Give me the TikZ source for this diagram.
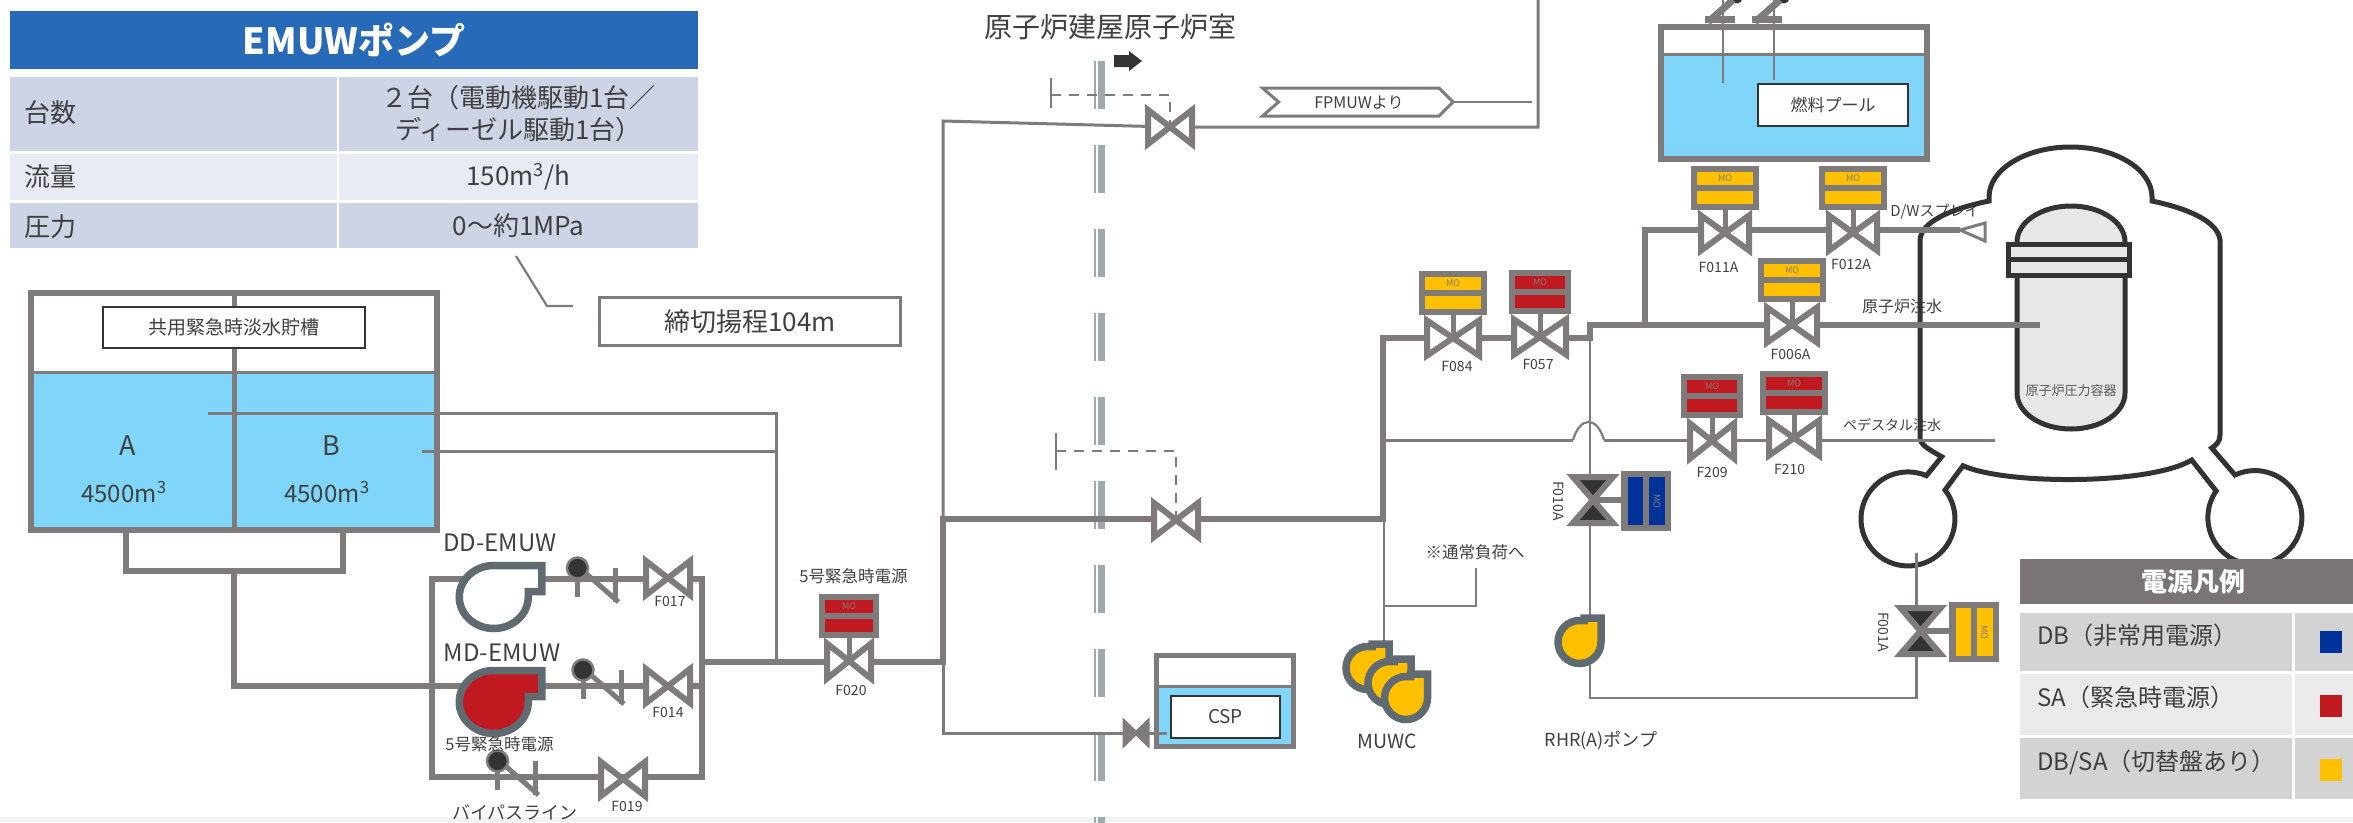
\documentclass[tikz,border=0pt]{standalone}
\usepackage{xcolor}
\usepackage{fontspec}
\setmainfont{Noto Sans CJK JP}

\definecolor{pipegray}{HTML}{7F7B7A}
\definecolor{pumpgray}{HTML}{5F6B70}
\definecolor{wallgray}{HTML}{9EA8AD}
\definecolor{darkline}{HTML}{333333}
\definecolor{inktext}{HTML}{404040}
\definecolor{waterblue}{HTML}{7FD6FA}
\definecolor{waterline}{HTML}{4FA9CC}
\definecolor{moyel}{HTML}{FFC000}
\definecolor{mored}{HTML}{C01920}
\definecolor{moblue}{HTML}{003399}
\definecolor{headblue}{HTML}{266AB8}
\definecolor{rowdark}{HTML}{CDD4E6}
\definecolor{rowlight}{HTML}{E8EBF4}
\definecolor{legendhead}{HTML}{7A7574}
\definecolor{legenddark}{HTML}{D3D3D3}
\definecolor{legendlight}{HTML}{EBEBEB}
\definecolor{vesselfill}{HTML}{E8E8E8}

\tikzset{
    fs/.style = {font=\fontsize{#1}{32}\selectfont, text=inktext, inner sep=0pt},
    pipe/.style = {draw=pipegray, line width=6pt},
    thinpipe/.style = {draw=pipegray, line width=3pt},
    hairpipe/.style = {draw=pipegray, line width=2.2pt},
    ctrl/.style = {draw=pipegray, line width=2.5pt, dash pattern=on 10pt off 8pt},
    shell/.style = {draw=darkline, line width=5pt},
    tankline/.style = {draw=pipegray, line width=6pt},
    water/.style = {fill=waterblue, draw=waterline, line width=1.5pt},
    namebox/.style = {draw=darkline, fill=white, line width=2pt, inner sep=0pt},
    cell/.style 2 args = {anchor=north west, minimum width=#1pt, minimum height=#2pt,
        inner sep=0pt, outer sep=0pt},
    tag/.style = {fs=14},
    pics/bowtie/.style 2 args = {code={
        \filldraw[draw=pipegray, fill=white, line width=6pt]
            (-#1,-#2) -- (#1,#2) -- (#1,-#2) -- (-#1,#2) -- cycle;
    }},
    pics/moact/.style 2 args = {code={
        \draw[draw=pipegray, line width=5pt] (0,0) -- (0,-24);
        \fill[pipegray] (-#1,-67) rectangle (#1,-23);
        \fill[#2] (-#1+6,-61) rectangle (#1-6,-48);
        \fill[#2] (-#1+6,-42) rectangle (#1-6,-29);
        \node[font=\fontsize{9}{9}\selectfont, text=pipegray, inner sep=0pt] (mo) at (0,-54.5) {MO};
    }},
    pics/sideact/.style = {code={
        \filldraw[draw=pipegray, fill=darkline, line width=6pt] (-20,-23) -- (20,-23) -- (0,0) -- cycle;
        \filldraw[draw=pipegray, fill=darkline, line width=6pt] (-20,23) -- (20,23) -- (0,0) -- cycle;
        \draw[draw=pipegray, line width=6pt] (0,0) -- (29,0);
        \fill[pipegray] (28,-29) rectangle (78,31);
        \fill[#1] (35,-23) rectangle (50,25);
        \fill[#1] (56,-23) rectangle (72,25);
        \node[font=\fontsize{9}{9}\selectfont, text=pipegray, inner sep=0pt, rotate=-90] (mo) at (64,1) {MO};
    }},
    pics/checkv/.style = {code={
        \draw[draw=pipegray, line width=5pt] (0,0) -- (0,29);
        \draw[draw=pipegray, line width=5pt] (8,5) -- (41,34);
        \draw[draw=pipegray, line width=5pt] (38,0) -- (38,34);
        \filldraw[draw=pipegray, fill=darkline, line width=2.5pt] (0,0) circle[radius=10.5pt];
    }},
    pics/zcheck/.style = {code={
        \fill[darkline] (14,-2) circle[radius=5.5pt];
        \draw[draw=pipegray, line width=7pt] (10,0) -- (-15,22);
        \draw[draw=pipegray, line width=7.5pt] (-18,19.5) -- (12,19.5);
    }},
    pics/bigpump/.style = {code={
        \filldraw[draw=pumpgray, fill=#1, line width=7.5pt] (0,-31.5) -- (48,-31.5) -- (48,-5.5)
            -- (34.5,-5.5) -- (34.5,0) arc[start angle=0, end angle=-270, x radius=34.5pt, y radius=31.5pt] -- cycle;
    }},
    pics/smallpump/.style = {code={
        \filldraw[draw=pumpgray, fill=moyel, line width=7.5pt] (21.5,-24) -- (4.5,-24) -- (4.5,-21.5)
            -- (0,-21.5) arc[start angle=90, end angle=360, radius=21.5pt] -- cycle;
    }},
}

\begin{document}
\begin{tikzpicture}[x=1pt, y=-1pt]
    \useasboundingbox (0,0) rectangle (2353,822);
    \fill[black!5] (0,817) rectangle (2353,822);

    \node[cell={688}{58}, fill=headblue, font=\fontsize{36}{36}\bfseries\selectfont, text=white] (title) at (10,11) {EMUWポンプ};
    \node[cell={327}{74}, fill=rowdark] (rowA) at (10,77) {};
    \node[cell={359}{74}, fill=rowdark, fs=26, align=center] (valA) at (339,77) {２台（電動機駆動1台／\\ディーゼル駆動1台）};
    \node[cell={327}{46}, fill=rowlight] (rowB) at (10,154) {};
    \node[cell={359}{46}, fill=rowlight, fs=26] (valB) at (339,154) {150m\textsuperscript{3}/h};
    \node[cell={327}{45}, fill=rowdark] (rowC) at (10,203) {};
    \node[cell={359}{45}, fill=rowdark, fs=26] (valC) at (339,203) {0～約1MPa};
    \node[fs=26, anchor=west] (keyA) at (24,113) {台数};
    \node[fs=26, anchor=west] (keyB) at (24,177) {流量};
    \node[fs=26, anchor=west] (keyC) at (24,227) {圧力};

    \coordinate (callA) at (516,256);
    \coordinate (callB) at (547,306);
    \coordinate (callC) at (573,306);
    \draw[hairpipe] (callA) -- (callB) -- (callC);
    \node[cell={301}{48}, draw=pipegray, line width=3pt, fs=26] (head) at (599.5,297.5) {締切揚程104m};

    \fill[white] (31,293) rectangle (437,372);
    \filldraw[water] (31,372) rectangle (437,530);
    \draw[tankline] (31,293) rectangle (437,530);
    \draw[draw=pipegray, line width=3pt] (31,372) -- (437,372);
    \draw[draw=pipegray, line width=5pt] (234,293) -- (234,530);
    \node[namebox, minimum width=262pt, minimum height=41pt, fs=19] (sharedtank) at (234,327) {共用緊急時淡水貯槽};
    \node[fs=27] (lblA) at (128,446) {A};
    \node[fs=27] (lblB) at (331,446) {B};
    \node[fs=24] (capA) at (124,492) {4500m\textsuperscript{3}};
    \node[fs=24] (capB) at (327,492) {4500m\textsuperscript{3}};

    \fill[white] (1156,655) rectangle (1293,687);
    \filldraw[water] (1156,687) rectangle (1293,747);
    \draw[draw=pipegray, line width=5pt] (1156.5,655.5) rectangle (1293.5,746.5);
    \draw[draw=pipegray, line width=3pt] (1156,686) -- (1293,686);
    \node[namebox, minimum width=109pt, minimum height=42pt, fs=19] (csp) at (1225.5,717) {CSP};

    \filldraw[water] (1661,54) rectangle (1927,159);
    \draw[tankline] (1661,27) rectangle (1927,159);
    \draw[draw=pipegray, line width=3pt] (1661,54) -- (1927,54);
    \node[namebox, minimum width=150pt, minimum height=42pt, fs=17] (pool) at (1833,105) {燃料プール};

    \foreach \wy in {61,145,...,817}
    {
        \draw[draw=wallgray, line width=2pt] (1094.5,\wy) -- (1094.5,\wy+48);
        \draw[draw=wallgray, line width=7pt] (1101.5,\wy) -- (1101.5,\wy+48);
    }
    \node[fs=28] (room) at (1110,27) {原子炉建屋原子炉室};
    \fill[darkline] (1114,55) -- (1129,55) -- (1129,51) -- (1142,61) -- (1129,71) -- (1129,67) -- (1114,67) -- cycle;

    \node[fs=16] (rpvwater) at (1902,306) {原子炉注水};
    \node[fs=14] (pedwater) at (1892,425) {ペデスタル注水};
    \node[fs=15] (dwspray) at (1935,212) {D/Wスプレイ};

    \draw[shell] (1920,438) -- (1920,240) .. controls (1921,222) and (1950,209) .. (1989,201) -- (1989,197)
        arc[start angle=180, end angle=0, x radius=81.5pt, y radius=50pt] -- (2152,201)
        .. controls (2190,209) and (2218,222) .. (2220,240) -- (2220,435)
        .. controls (2220,442) and (2216,445) .. (2211.7,448) -- (2235,475)
        arc[start angle=115, end angle=-214.5, radius=47pt] -- (2191.7,460)
        .. controls (2150,485) and (2005,485) .. (1963,465.7) -- (1945,490)
        arc[start angle=38, end angle=-293, radius=47pt] -- (1941.7,456.7)
        .. controls (1930,450) and (1920,445) .. (1920,438) -- cycle;
    \filldraw[shell, fill=vesselfill] (2017,393) -- (2017,242)
        arc[start angle=180, end angle=0, x radius=54pt, y radius=36pt] -- (2125,393)
        arc[start angle=0, end angle=-180, x radius=54pt, y radius=36pt] -- cycle;
    \filldraw[shell, fill=vesselfill] (2008,244) rectangle (2129,275);
    \draw[shell] (2008,259.5) -- (2129,259.5);
    \node[fs=13, text=black!65] (rpv) at (2071,391) {原子炉圧力容器};

    \foreach \nm/\x/\y in {F017/668/578, F014/668/686, F019/623/779, F020/849/661, vTop/1170/127, vMid/1176/520,
        vCsp/1136/733, F084/1453/338, F057/1540/337, F006A/1792/325, F011A/1725/233, F012A/1853/233,
        F209/1712/441, F210/1794/438, F010A/1593/500, F001A/1920.5/631,
        uA/126/533, uAb/126/571, uBb/343/571, uB/343/533, uM/234/571, suct/234/686,
        ddL/432/579, ddR/702/579, byL/432/777, byR/702/777, mdR/702/686, hdrR/702/662, hdrM/776/662,
        retA/208/413, retAc/776/413, retB/422/451, retBc/776/451, jnLow/943/662, jnMid/943/519,
        jnTop/943/121, topR/1538/127, topEnd/1538/0, cspEnd/1167/733, cspC/943/733,
        jnR/1383/519, upR/1383/338, stepA/1590/338, stepB/1590/325, rpvIn/2040/325,
        brA/1645/325, brB/1645/230, dwEnd/1960/230, pedA/1383/440, pedB/1573/440, pedC/1604/440, pedD/1995/440,
        muwcA/1384/519, muwcB/1384/642, loadA/1384/606, loadB/1476/606, loadC/1476/568,
        rhrA/1590/338, rhrB/1590/480, rhrC/1590/525, rhrD/1590/618, rhrE/1590/665, rhrF/1590/698,
        rhrG/1916.5/698, rhrH/1916.5/655, rhrI/1916.5/608, rhrJ/1916.5/553,
        poolA/1723/0, poolB/1723/83, poolC/1774/0, poolD/1774/80,
        teeTop/1051/95, teeTopC/1170/95, teeMid/1056/451, teeMidC/1176/451}
        \coordinate (\nm) at (\x,\y);

    \draw[ctrl] (teeTop) -- (teeTopC) -- (vTop);
    \draw[ctrl] (teeMid) -- (teeMidC) -- (vMid);
    \draw[hairpipe] (1051,78) -- (1051,108);
    \draw[hairpipe] (1056,433) -- (1056,470);

    \draw[pipe] (uA) -- (uAb) -- (uBb) -- (uB);
    \draw[pipe] (uM) -- (suct) -- (mdR);
    \draw[pipe] (ddL) -- (ddR) -- (byR) -- (byL) -- cycle;
    \draw[pipe] (hdrR) -- (jnLow) -- (jnMid) -- (jnR) -- (upR) -- (stepA) -- (stepB) -- (rpvIn);
    \draw[pipe] (brA) -- (brB) -- (dwEnd);
    \draw[thinpipe] (retA) -- (retAc) -- (hdrM);
    \draw[thinpipe] (retB) -- (retBc);
    \draw[thinpipe] (jnMid) -- (jnTop) -- (vTop) -- (topR) -- (topEnd);
    \draw[thinpipe] (jnLow) -- (cspC) -- (cspEnd);
    \draw[thinpipe] (pedA) -- (pedB);
    \draw[thinpipe] (pedC) -- (pedD);
    \draw[hairpipe] (pedB) .. controls (1580,416) and (1597,416) .. (pedC);
    \draw[hairpipe] (muwcA) -- (muwcB);
    \draw[hairpipe] (loadA) -- (loadB) -- (loadC);
    \draw[hairpipe] (rhrA) -- (rhrB);
    \draw[hairpipe] (rhrC) -- (rhrD);
    \draw[hairpipe] (rhrE) -- (rhrF) -- (rhrG) -- (rhrH);
    \draw[hairpipe] (rhrI) -- (rhrJ);
    \draw[hairpipe] (poolA) -- (poolB);
    \draw[hairpipe] (poolC) -- (poolD);
    \filldraw[draw=pipegray, fill=white, line width=3pt] (dwEnd) -- (1985,223) -- (1985,241) -- cycle;

    \pic at (1723,0) {zcheck};
    \pic at (1770,0) {zcheck};

    \coordinate (fpTip) at (1453,102);
    \coordinate (fpEnd) at (1532,102);
    \draw[hairpipe] (fpTip) -- (fpEnd);
    \filldraw[draw=pipegray, fill=white, line width=3pt] (1262.5,88) -- (1439,88) -- (fpTip) -- (1439,116)
        -- (1262.5,116) -- (1278.6,102) -- cycle;
    \node[fs=16] (fpmuw) at (1359,103) {FPMUWより};

    \foreach \nm/\vw/\hw/\col/\lx/\ly in {F084/26/34/moyel/1457/366, F057/26/31/mored/1538/364,
        F006A/25/34/moyel/1790.5/354, F011A/24/34/moyel/1718.5/267, F012A/24/34/moyel/1851/264,
        F209/22/31/mored/1712/472, F210/25/34/mored/1789.5/469, F020/22/30/mored/851/690}
    {
        \pic at (\nm) {bowtie={\vw}{17.5}};
        \pic (\nm-) at (\nm) {moact={\hw}{\col}};
        \node[tag] (lbl\nm) at (\lx,\ly) {\nm};
    }
    \foreach \nm/\lx/\ly in {F017/670/601, F014/668/712, F019/627/806}
    {
        \pic at (\nm) {bowtie={22}{17}};
        \node[tag] (lbl\nm) at (\lx,\ly) {\nm};
    }
    \pic at (vTop) {bowtie={22}{17}};
    \pic at (vMid) {bowtie={22}{17}};
    \filldraw[draw=pipegray, fill=pipegray, line width=4pt] (vCsp) ++(-11.5,-11) -- ++(23,22) -- ++(0,-22) -- ++(-23,22) -- cycle;

    \pic (F010A-) at (F010A) {sideact=moblue};
    \pic (F001A-) at (F001A) {sideact=moyel};
    \node[tag, rotate=-90] (lblF010A) at (1559,501) {F010A};
    \node[tag, rotate=-90] (lblF001A) at (1884,632) {F001A};

    \pic at (493.75,597) {bigpump=white};
    \pic at (493.75,702) {bigpump=mored};
    \pic at (577.5,568) {checkv};
    \pic at (583,670) {checkv};
    \pic at (497.5,761) {checkv};
    \pic at (1367.5,668) {smallpump};
    \pic at (1389.5,683) {smallpump};
    \pic at (1406,698) {smallpump};
    \pic at (1579.5,642) {smallpump};

    \node[fs=24] (ddemuw) at (500,543) {DD-EMUW};
    \node[fs=24] (mdemuw) at (502,653) {MD-EMUW};
    \node[fs=16.5] (powerA) at (853.5,576) {5号緊急時電源};
    \node[fs=16.5] (powerB) at (499.5,744) {5号緊急時電源};
    \node[fs=18] (bypass) at (515,812) {バイパスライン};
    \node[fs=16.5] (normal) at (1475,552) {※通常負荷へ};
    \node[fs=19.5] (muwc) at (1387,741) {MUWC};
    \node[fs=18] (rhrpump) at (1601,741) {RHR(A)ポンプ};

    \node[cell={333}{45}, fill=legendhead, font=\fontsize{26}{26}\bfseries\selectfont, text=white] (legend) at (2020,559) {\hspace*{13pt}電源凡例};
    \node[cell={272}{58}, fill=legenddark] (rowDB) at (2020,613) {};
    \node[cell={58}{58}, fill=legenddark] (keyDB) at (2295,613) {};
    \node[cell={272}{61}, fill=legendlight] (rowSA) at (2020,674) {};
    \node[cell={58}{61}, fill=legendlight] (keySA) at (2295,674) {};
    \node[cell={272}{61}, fill=legenddark] (rowBoth) at (2020,738) {};
    \node[cell={58}{61}, fill=legenddark] (keyBoth) at (2295,738) {};
    \node[fs=24, anchor=west] (txtDB) at (2037,635) {DB（非常用電源）};
    \node[fs=24, anchor=west] (txtSA) at (2037,697) {SA（緊急時電源）};
    \node[fs=24, anchor=west] (txtBoth) at (2037,762) {DB/SA（切替盤あり）};
    \fill[moblue] (2320,631) rectangle (2342,653);
    \fill[mored] (2320,695) rectangle (2342,717);
    \fill[moyel] (2320,759) rectangle (2342,781);
\end{tikzpicture}
\end{document}
